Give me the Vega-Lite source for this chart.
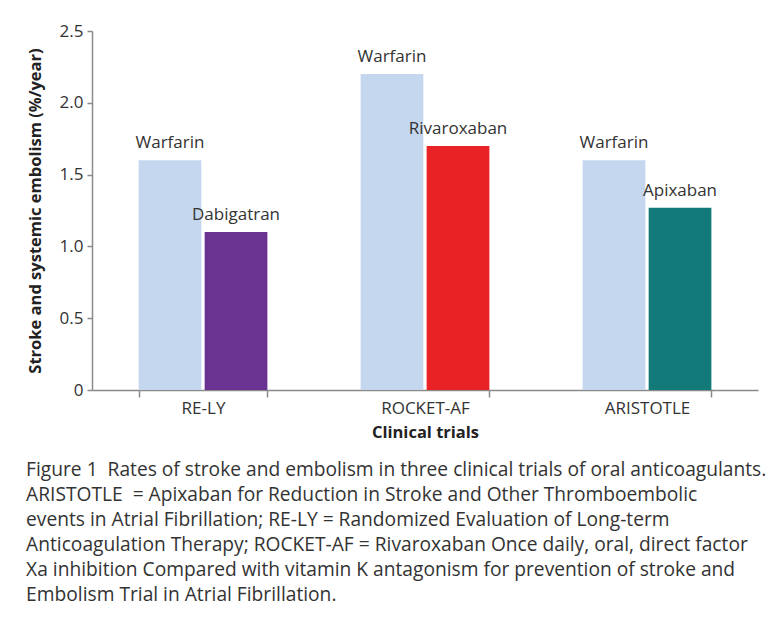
{
  "$schema": "https://vega.github.io/schema/vega-lite/v6.json",
  "autosize": "none",
  "width": 666,
  "height": 359,
  "padding": {"left": 92, "top": 31, "right": 23, "bottom": 235},
  "background": "white",
  "data": {"values": [
    {"trial": "RE-LY", "arm": "Control", "drug": "Warfarin", "rate": 1.6},
    {"trial": "RE-LY", "arm": "Treatment", "drug": "Dabigatran", "rate": 1.1},
    {"trial": "ROCKET-AF", "arm": "Control", "drug": "Warfarin", "rate": 2.2},
    {"trial": "ROCKET-AF", "arm": "Treatment", "drug": "Rivaroxaban", "rate": 1.7},
    {"trial": "ARISTOTLE", "arm": "Control", "drug": "Warfarin", "rate": 1.6},
    {"trial": "ARISTOTLE", "arm": "Treatment", "drug": "Apixaban", "rate": 1.27}
  ]},
  "encoding": {
    "x": {
      "field": "trial", "type": "nominal", "sort": null,
      "title": "Clinical trials",
      "scale": {"paddingInner": 0.42, "paddingOuter": 0.21},
      "axis": {
        "labelAngle": 0, "tickBand": "extent", "tickSize": 7, "labelPadding": 3,
        "domainColor": "#8a8a8a", "tickColor": "#8a8a8a", "domainWidth": 1.5, "tickWidth": 1.5,
        "labelFont": "Open Sans", "labelFontSize": 17, "labelColor": "#333333",
        "titleFont": "Open Sans", "titleFontSize": 16.5, "titleFontWeight": "bold", "titleColor": "#222222",
        "titlePadding": 8
      }
    },
    "xOffset": {"field": "arm", "type": "nominal", "scale": {"paddingInner": 0.05}},
    "y": {
      "field": "rate", "type": "quantitative",
      "title": "Stroke and systemic embolism (%/year)",
      "scale": {"domain": [0, 2.5]},
      "axis": {
        "values": [0, 0.5, 1, 1.5, 2, 2.5],
        "labelExpr": "datum.value == 0 ? '0' : format(datum.value, '.1f')",
        "grid": false, "tickSize": 5, "labelPadding": 4,
        "domainColor": "#8a8a8a", "tickColor": "#8a8a8a", "domainWidth": 1.5, "tickWidth": 1.5,
        "labelFont": "Open Sans", "labelFontSize": 17, "labelColor": "#333333",
        "titleFont": "Open Sans", "titleFontSize": 16.5, "titleFontWeight": "bold", "titleColor": "#222222",
        "titlePadding": 16
      }
    }
  },
  "layer": [
    {
      "mark": {"type": "bar"},
      "encoding": {
        "color": {
          "field": "drug", "type": "nominal", "legend": null,
          "scale": {
            "domain": ["Warfarin", "Dabigatran", "Rivaroxaban", "Apixaban"],
            "range": ["#c5d7ee", "#6a3291", "#e92226", "#127b7a"]
          }
        }
      }
    },
    {
      "mark": {"type": "text", "baseline": "alphabetic", "dy": -12, "font": "Open Sans", "fontSize": 17, "color": "#333333"},
      "encoding": {"text": {"field": "drug"}}
    }
  ],
  "title": {
    "text": [
      "Figure 1\u00a0 Rates of stroke and embolism in three clinical trials of oral anticoagulants.",
      "ARISTOTLE\u00a0 = Apixaban for Reduction in Stroke and Other Thromboembolic",
      "events in Atrial Fibrillation; RE-LY = Randomized Evaluation of Long-term",
      "Anticoagulation Therapy; ROCKET-AF = Rivaroxaban Once daily, oral, direct factor",
      "Xa inhibition Compared with vitamin K antagonism for prevention of stroke and",
      "Embolism Trial in Atrial Fibrillation."
    ],
    "orient": "bottom", "anchor": "start", "frame": "bounds",
    "font": "Open Sans", "fontSize": 19.2, "fontWeight": "normal", "color": "#333333",
    "lineHeight": 25, "offset": 20, "dx": -1
  },
  "config": {"view": {"stroke": null}}
}
